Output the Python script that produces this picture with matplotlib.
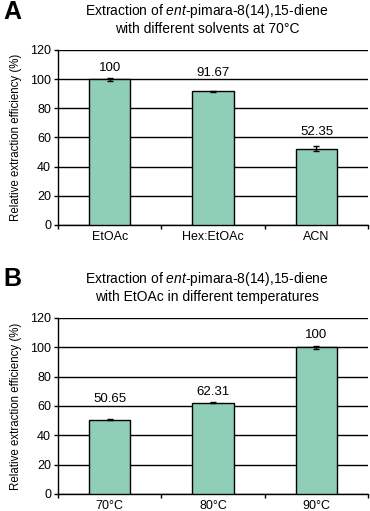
import numpy as np
import matplotlib.pyplot as plt

plt.rcParams['font.family'] = ['Liberation Sans', 'DejaVu Sans']
plt.rcParams['mathtext.fontset'] = 'custom'
plt.rcParams['mathtext.rm'] = 'Liberation Sans'
plt.rcParams['mathtext.it'] = 'Liberation Sans:italic'

# panel A: solvents
solvents = ['EtOAc', 'Hex:EtOAc', 'ACN']
solvent_vals = [100, 91.67, 52.35]
solvent_err = [1.0, 0.3, 1.5]
solvent_lbl_off = [11, 18, 17]   # label offsets in px above bar

# panel B: temperatures
temps = ['70°C', '80°C', '90°C']
temp_vals = [50.65, 62.31, 100]
temp_err = [0.3, 0.5, 1.0]
temp_lbl_off = [21, 11, 12]

bar_color = '#8fcfb8'

fig = plt.figure(figsize=(3.7, 5.11), dpi=100)
axA = fig.add_axes([0.157, 0.5597, 0.838, 0.3425])
axB = fig.add_axes([0.157, 0.0333, 0.838, 0.3445])


def draw(ax, cats, vals, errs, offs, title):
    x = np.arange(len(cats))
    ax.set_axisbelow(True)
    ax.bar(x, vals, width=0.4, color=bar_color, edgecolor='black', linewidth=1.0, zorder=3)
    ax.errorbar(x, vals, yerr=errs, fmt='none', ecolor='black', elinewidth=1.0,
                capsize=2, capthick=1.0, zorder=4)
    for xi, v, o in zip(x, vals, offs):
        ax.annotate(f'{v:g}', (xi, v), xytext=(0, o * 0.72), textcoords='offset points',
                    ha='center', va='center', fontsize=9.5)
    ax.set_xlim(-0.5, len(cats) - 0.5)
    ax.set_ylim(0, 120)
    ax.set_yticks(np.arange(0, 121, 20))
    ax.yaxis.grid(True, color='black', linewidth=1.0)
    ax.set_xticks(x)
    ax.set_xticklabels(cats, fontsize=9)
    ax.set_xticks(np.arange(len(cats) + 1) - 0.5, minor=True)
    ax.tick_params(axis='x', which='major', length=0, pad=4)
    ax.tick_params(axis='x', which='minor', length=3, width=1.0, direction='out')
    ax.tick_params(axis='y', labelsize=9, length=3, width=1.0, direction='out', pad=2)
    for s in ['top', 'right']:
        ax.spines[s].set_visible(False)
    for s in ['left', 'bottom']:
        ax.spines[s].set_linewidth(1.0)
    ax.set_ylabel('Relative extraction efficiency (%)', fontsize=8.3, labelpad=6)
    ax.set_title(title, fontsize=10, pad=12, x=0.48, linespacing=1.25)


draw(axA, solvents, solvent_vals, solvent_err, solvent_lbl_off,
     'Extraction of $\\mathit{ent}$-pimara-8(14),15-diene\nwith different solvents at 70°C')
draw(axB, temps, temp_vals, temp_err, temp_lbl_off,
     'Extraction of $\\mathit{ent}$-pimara-8(14),15-diene\nwith EtOAc in different temperatures')

fig.text(12 / 370, 1 - 12 / 511, 'A', fontsize=18, fontweight='bold', ha='center', va='center')
fig.text(12 / 370, 1 - 279 / 511, 'B', fontsize=18, fontweight='bold', ha='center', va='center')

fig.savefig('out.png', dpi=100)
